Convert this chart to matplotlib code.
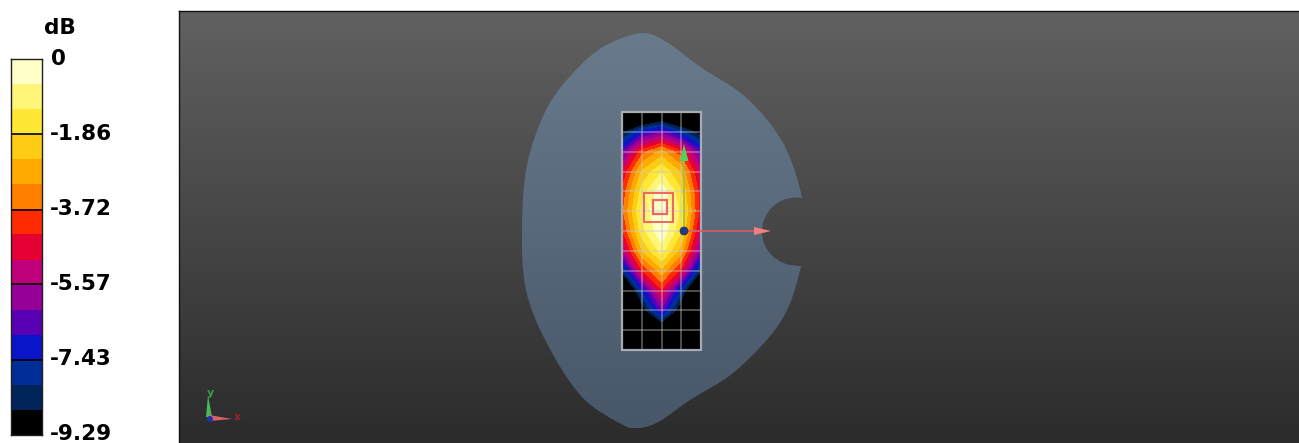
import numpy as np
import matplotlib
matplotlib.use('Agg')
from matplotlib import pyplot as plt
from matplotlib.colors import ListedColormap, BoundaryNorm
from matplotlib.patches import Polygon, Rectangle, Circle, PathPatch
from matplotlib.path import Path

W, H = 1299, 443

# colour scale
band_colors = ['#000000', '#00235a', '#002d96', '#0a14c8', '#5a00b4', '#960099', '#c0007a', '#e60033',
               '#ff2a00', '#ff7f00', '#ffaa00', '#ffcc14', '#ffe833', '#fff578', '#ffffc8']
tick_values = [0, -1.86, -3.72, -5.57, -7.43, -9.29]
tick_labels = ['0', '-1.86', '-3.72', '-5.57', '-7.43', '-9.29']

# measured grid (screen position in pixels)
grid_x = [622, 641.8, 661.5, 681.2, 701]
grid_y = [112, 131.8, 151.6, 171.5, 191.3, 211.1, 231, 250.8, 270.6, 290.5, 310.3, 330.1, 350]
# dB at grid nodes, rows top to bottom
field_db = [
    [-14.0, -12.0, -10.9, -12.0, -14.0],
    [-9.0, -7.2, -6.4, -7.8, -9.2],
    [-6.6, -4.0, -2.9, -4.2, -6.7],
    [-5.0, -2.4, -1.3, -2.6, -5.3],
    [-4.2, -1.6, -0.2, -1.8, -4.8],
    [-3.9, -1.1, 0.0, -1.4, -4.7],
    [-4.5, -1.5, -0.1, -1.8, -5.3],
    [-5.7, -2.5, -1.0, -2.8, -6.3],
    [-8.4, -4.4, -2.7, -4.6, -8.6],
    [-11.5, -7.5, -4.5, -7.8, -12.0],
    [-15.0, -9.4, -6.4, -9.6, -15.0],
    [-15.0, -14.0, -10.4, -14.0, -15.0],
    [-15.0, -15.0, -13.0, -15.0, -15.0],
]

# phantom outline, screen pixels
outline_x = [640, 665, 700, 746.7, 783, 801.7, 803, 801, 781.7, 736.7, 690, 660, 640, 623,
             581.7, 546.7, 526, 522, 527, 546, 573, 603]
outline_y = [33.3, 41, 66.7, 98, 143, 196, 231, 266, 320, 370, 400, 421, 428, 425,
             396.7, 343, 290, 230, 165, 110, 73, 47]


def smoothPath(xs, ys):
  # closed catmull-rom through the outline points
  pts = np.column_stack([xs, ys]).astype(float)
  n = len(pts)
  verts = [pts[0]]
  codes = [Path.MOVETO]
  for i in range(n):
    p0, p1, p2, p3 = pts[i - 1], pts[i], pts[(i + 1) % n], pts[(i + 2) % n]
    verts += [p1 + (p2 - p0) / 6, p2 - (p3 - p1) / 6, p2]
    codes += [Path.CURVE4] * 3
  return Path(verts, codes)


fig = plt.figure(figsize=(W / 100, H / 100), dpi=100, facecolor='white')
plt.rcParams['font.family'] = ['DejaVu Sans']

# main view, axes use pixel coords
ax = fig.add_axes([179 / W, 0, (W - 179) / W, (H - 11) / H])
ax.set_xticks([])
ax.set_yticks([])
for s in ax.spines.values():
  s.set_color('#111111')
  s.set_linewidth(1)
ax.spines['bottom'].set_visible(False)
ax.spines['right'].set_visible(False)

ext = (179, W, H, 11)
bg = np.linspace(0, 1, 256).reshape(-1, 1)
bgmap = ListedColormap(np.linspace([0.38, 0.38, 0.38], [0.17, 0.17, 0.17], 256))
ax.imshow(bg, cmap=bgmap, extent=ext, aspect='auto', zorder=0, interpolation='bilinear')

body = ax.imshow(bg, extent=(179, W, 428, 33), aspect='auto', zorder=1, interpolation='bilinear',
                 cmap=ListedColormap(np.linspace([0.41, 0.48, 0.55], [0.28, 0.34, 0.41], 256)))
body.set_clip_path(PathPatch(smoothPath(outline_x, outline_y), transform=ax.transData))

# notch on the right side
for shape in [Circle((796, 231.5), 34, transform=ax.transData),
              Rectangle((796, 197.5), 40, 68, transform=ax.transData)]:
  notch = ax.imshow(bg, cmap=bgmap, extent=ext, aspect='auto', zorder=2, interpolation='bilinear')
  notch.set_clip_path(shape)
ax.set_xlim(179, W)
ax.set_ylim(H, 11)

# scan area
ax.add_patch(Rectangle((grid_x[0], grid_y[0]), grid_x[-1] - grid_x[0], grid_y[-1] - grid_y[0],
                       fc='black', ec='none', zorder=3))
levels = np.linspace(-9.29, 0, 16)
# nested fills so no dark seams show between the bands
for lev, col in zip(levels[1:-1], band_colors[1:]):
  ax.contourf(grid_x, grid_y, np.array(field_db), levels=[lev, 100], colors=[col], zorder=4)
for x in grid_x[1:-1]:
  ax.plot([x, x], [grid_y[0], grid_y[-1]], color='#c8c8c8', alpha=0.5, lw=1.1, zorder=5)
for y in grid_y[1:-1]:
  ax.plot([grid_x[0], grid_x[-1]], [y, y], color='#c8c8c8', alpha=0.5, lw=1.1, zorder=5)
ax.add_patch(Rectangle((grid_x[0], grid_y[0]), grid_x[-1] - grid_x[0], grid_y[-1] - grid_y[0],
                       fc='none', ec='#a8acb2', lw=1.6, zorder=5))

# zoom scan boxes
ax.add_patch(Rectangle((644, 193), 28.7, 28.7, fc='none', ec='#f06464', lw=1.4, zorder=6))
ax.add_patch(Rectangle((652.7, 200), 14, 14, fc='none', ec='#f06464', lw=1.6, zorder=6))

# antenna axes
ax.plot([684, 684], [231, 160], color='#9cc040', lw=1.2, zorder=6)
ax.add_patch(Polygon([[684, 144], [680, 161], [688.5, 161]], fc='#50d060', ec='none', zorder=7))
ax.plot([684, 755], [231, 231], color='#d85a66', lw=1.2, zorder=6)
ax.add_patch(Polygon([[771, 231], [754, 227], [754, 235]], fc='#f08080', ec='none', zorder=7))
ax.add_patch(Circle((684, 231), 4, fc='#1e3c8c', ec='#303030', lw=0.5, zorder=8))

# corner triad
ax.add_patch(Polygon([[206, 417], [212, 417], [208, 395]], fc='#48b858', ec='none', zorder=6))
ax.add_patch(Polygon([[209, 415], [209, 421], [232, 419]], fc='#d86464', ec='none', zorder=6))
ax.add_patch(Circle((210, 419), 3, fc='#2030b0', ec='none', zorder=7))
ax.text(210, 393, 'y', color='#30a040', fontsize=8, fontweight='bold', ha='center', va='center', zorder=7)
ax.text(237, 417, 'x', color='#a02030', fontsize=8, fontweight='bold', ha='center', va='center', zorder=7)

# colour bar
cax = fig.add_axes([11 / W, 1 - 435 / H, 31 / W, (435 - 59) / H])
cax.pcolormesh([0, 1], np.linspace(-9.29, 0, 16), np.linspace(-9, -0.3, 15).reshape(-1, 1),
               cmap=ListedColormap(band_colors), norm=BoundaryNorm(np.linspace(-9.29, 0, 16), 15))
cax.set_xlim(0, 1)
cax.set_ylim(-9.29, 0)
cax.set_xticks([])
cax.set_yticks([])
for s in cax.spines.values():
  s.set_color('#202020')
  s.set_linewidth(1)
for v in tick_values[1:-1]:
  cax.plot([0, 1.0], [v, v], color='black', lw=1.2)

fig.text(60 / W, 1 - 28 / H, 'dB', fontsize=15.5, fontweight='bold', ha='center', va='center')
for v, lab in zip(tick_values, tick_labels):
  y = 434 - (v + 9.29) / 9.29 * 375
  fig.text(49.5 / W if lab != '0' else 51 / W, 1 - y / H, lab, fontsize=15.5, fontweight='bold', ha='left', va='center')

fig.savefig('out.png', dpi=100)
